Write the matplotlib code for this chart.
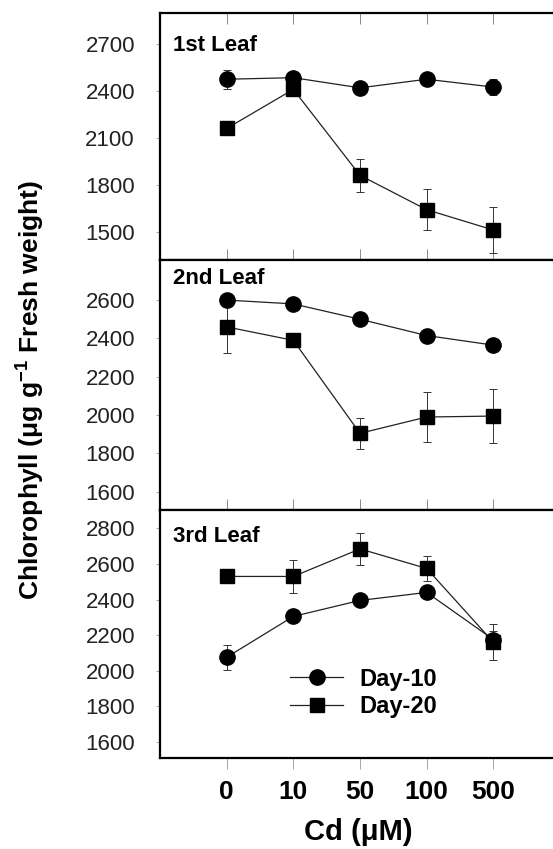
import numpy as np
import matplotlib
matplotlib.use("Agg")
import matplotlib.pyplot as plt

plt.rcParams['font.family'] = ['Liberation Sans', 'DejaVu Sans']
plt.rcParams['mathtext.fontset'] = 'custom'
plt.rcParams['mathtext.rm'] = 'Liberation Sans'
plt.rcParams['mathtext.bf'] = 'Liberation Sans:bold'

cd_labels = ['0', '10', '50', '100', '500']
leaf_names = ['1st Leaf', '2nd Leaf', '3rd Leaf']

# chlorophyll, ug/g fresh weight
day10 = [[2475, 2485, 2420, 2475, 2425],
         [2600, 2580, 2500, 2415, 2365],
         [2075, 2305, 2395, 2440, 2175]]
day10_err = [[60, 30, 30, 25, 50],
             [20, 20, 20, 20, 20],
             [70, 25, 25, 25, 50]]
day20 = [[2160, 2410, 1860, 1640, 1510],
         [2460, 2390, 1905, 1990, 1995],
         [2530, 2530, 2685, 2575, 2160]]
day20_err = [[40, 30, 105, 130, 145],
             [135, 20, 80, 130, 140],
             [20, 95, 90, 70, 100]]

ylims = [(1318, 2899), (1505, 2809), (1508, 2904)]
yticks = [np.arange(1500, 2701, 300), np.arange(1600, 2601, 200), np.arange(1600, 2801, 200)]

W, H = 553, 849
fig = plt.figure(figsize=(W / 100, H / 100), dpi=100)

x = np.arange(len(cd_labels))
left, right = 160, 560
bounds = [(13, 260), (260, 510), (510, 758)]

axes = []
for i, (top, bot) in enumerate(bounds):
    ax = fig.add_axes([left / W, 1 - bot / H, (right - left) / W, (bot - top) / H])
    axes.append(ax)
    ax.errorbar(x, day10[i], yerr=day10_err[i], fmt='none', ecolor='#333333',
                elinewidth=0.7, capsize=3, capthick=0.7)
    ax.errorbar(x, day20[i], yerr=day20_err[i], fmt='none', ecolor='#333333',
                elinewidth=0.7, capsize=3, capthick=0.7)
    l1, = ax.plot(x, day10[i], '-o', color='#222222', lw=0.9, ms=11,
                  mfc='black', mec='black', label='Day-10')
    l2, = ax.plot(x, day20[i], '-s', color='#222222', lw=0.9, ms=10,
                  mfc='black', mec='black', label='Day-20')
    ax.set_xlim(-1, 5)
    ax.set_ylim(*ylims[i])
    ax.set_yticks(yticks[i])
    ax.set_yticklabels([str(v) for v in yticks[i]], fontsize=16, color='#222222')
    ax.tick_params(axis='y', which='major', direction='out', length=3, width=0.6,
                   color='#999999', pad=15, right=True)
    for s in ax.spines.values():
        s.set_linewidth(1.6)
    ax.text(0.033, [0.870, 0.928, 0.895][i], leaf_names[i], transform=ax.transAxes,
            fontsize=16, fontweight='bold', va='center', ha='left')
    ax.set_xticks(x)
    if i < 2:
        ax.tick_params(axis='x', direction='in', length=8, width=0.6, color='#777777',
                       top=(i == 0), labelbottom=False)
    else:
        ax.tick_params(axis='x', direction='out', length=8, width=0.6, color='#999999',
                       pad=8)
        ax.set_xticklabels(cd_labels, fontsize=19, fontweight='bold')
        ax.legend(handles=[l1, l2], loc='center left', bbox_to_anchor=(0.325, 0.262),
                  frameon=False, prop={'weight': 'bold', 'size': 17},
                  handlelength=2.25, handletextpad=0.7, labelspacing=0.2,
                  borderpad=0, borderaxespad=0)

fig.text(30 / W, 1 - 390 / H, r'Chlorophyll (μg g$^{\mathbf{-1}}$ Fresh weight)',
         rotation=90, fontsize=19, fontweight='bold', ha='center', va='center')
fig.text(358 / W, 1 - 832 / H, 'Cd (μM)', fontsize=21, fontweight='bold',
         ha='center', va='center')

fig.savefig('out.png', dpi=100)
